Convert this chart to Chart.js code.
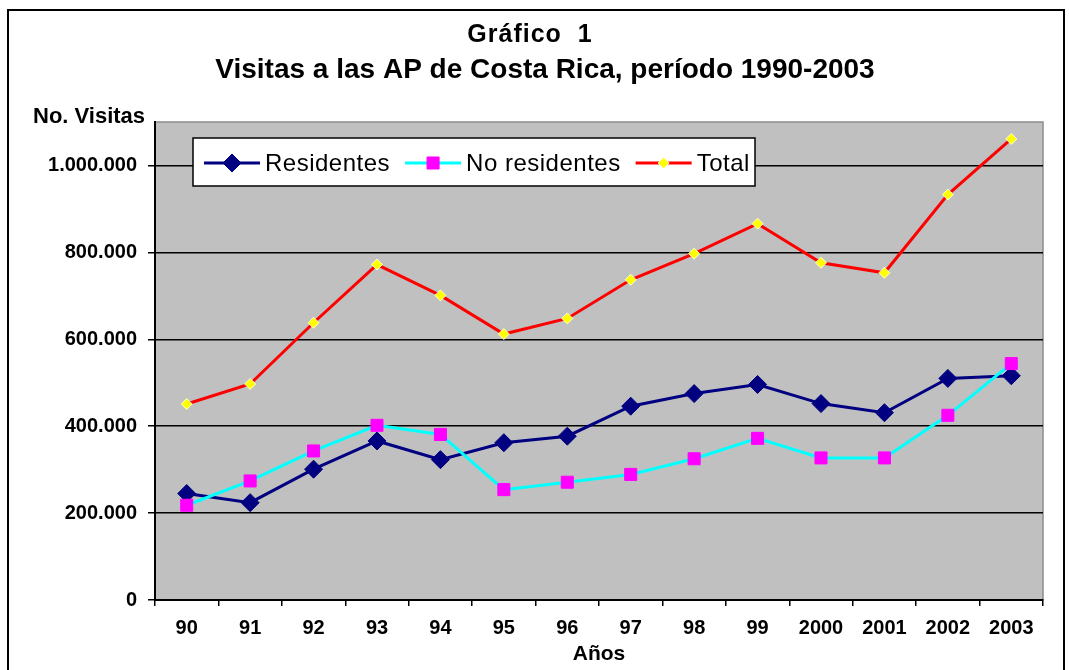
<!DOCTYPE html>
<html>
<head>
<meta charset="utf-8">
<title>Visitas a las AP de Costa Rica, período 1990-2003</title>
<script src="https://cdn.jsdelivr.net/npm/chart.js@4/dist/chart.umd.min.js"></script>
<style>
  html, body { margin: 0; padding: 0; background: #fff; }
  #wrap { position: relative; width: 1069px; height: 670px; overflow: hidden; }
  #frame {
    position: absolute; left: 7px; top: 9px; width: 1054px; height: 700px;
    border: 2px solid #000; pointer-events: none;
  }
  canvas { position: absolute; left: 0; top: 0; }
</style>
</head>
<body>
<div id="wrap">
  <canvas id="chart" width="1069" height="670"></canvas>
  <div id="frame"></div>
</div>
<script>
// Data
const years = ['90', '91', '92', '93', '94', '95', '96', '97', '98', '99', '2000', '2001', '2002', '2003'];
const residentes = [245000, 224000, 301000, 366000, 323000, 362000, 377000, 446000, 475000, 496000, 452000, 431000, 510000, 516000];
const noResidentes = [218000, 274000, 343000, 402000, 381000, 254000, 271000, 289000, 325000, 372000, 327000, 327000, 425000, 544000];
const total = [451000, 497000, 638000, 772000, 701000, 612000, 648000, 737000, 797000, 866000, 776000, 753000, 933000, 1061000];
const yTicks = [0, 200000, 400000, 600000, 800000, 1000000];

const titleText = 'Gráfico  1';
const subtitleText = 'Visitas a las AP de Costa Rica, período 1990-2003';
const yAxisLabel = 'No. Visitas';
const xAxisLabel = 'Años';

const FONT = "'Liberation Sans', Arial, sans-serif";

function formatMiles(v) {
  return v.toString().replace(/\B(?=(\d{3})+(?!\d))/g, '.');
}

// Grey plot background and its thin border
const plotBackground = {
  id: 'plotBackground',
  beforeDraw(chart) {
    const { ctx, chartArea: a } = chart;
    ctx.save();
    ctx.fillStyle = '#c0c0c0';
    ctx.fillRect(a.left, a.top, a.right - a.left, a.bottom - a.top);
    ctx.strokeStyle = '#8c8c8c';
    ctx.lineWidth = 1.5;
    ctx.strokeRect(a.left, a.top, a.right - a.left, a.bottom - a.top);
    ctx.restore();
  }
};

// Titles, the horizontal y-axis caption and the boxed legend inside the plot
const decorations = {
  id: 'decorations',
  afterDraw(chart) {
    const ctx = chart.ctx;
    ctx.save();
    ctx.fillStyle = '#000';
    ctx.textBaseline = 'alphabetic';

    ctx.textAlign = 'center';
    ctx.font = 'bold 25px ' + FONT;
    ctx.letterSpacing = '1px';
    ctx.fillText(titleText, 530, 42);
    ctx.font = 'bold 28px ' + FONT;
    ctx.letterSpacing = '0px';
    ctx.fillText(subtitleText, 545, 78);

    ctx.textAlign = 'left';
    ctx.font = 'bold 22px ' + FONT;
    ctx.fillText(yAxisLabel, 33, 123);

    // legend box
    const bx = 193, by = 138, bw = 562, bh = 48;
    ctx.fillStyle = '#fff';
    ctx.fillRect(bx, by, bw, bh);
    ctx.strokeStyle = '#000';
    ctx.lineWidth = 1.5;
    ctx.strokeRect(bx, by, bw, bh);

    const cy = by + bh / 2 + 1;
    let x = 204;
    ctx.font = '24px ' + FONT;
    ctx.letterSpacing = '0.5px';
    ctx.textBaseline = 'middle';
    chart.data.datasets.forEach(ds => {
      ctx.strokeStyle = ds.borderColor;
      ctx.lineWidth = ds.borderWidth;
      ctx.beginPath();
      ctx.moveTo(x, cy);
      ctx.lineTo(x + 56, cy);
      ctx.stroke();
      ctx.fillStyle = ds.pointBackgroundColor;
      ctx.strokeStyle = ds.pointBorderColor;
      ctx.lineWidth = ds.pointBorderWidth;
      Chart.helpers.drawPoint(ctx, {
        pointStyle: ds.pointStyle,
        radius: ds.pointRadius,
        borderWidth: ds.pointBorderWidth,
        rotation: 0
      }, x + 28, cy);
      ctx.fillStyle = '#000';
      ctx.fillText(ds.label, x + 61, cy + 1);
      x += 61 + ctx.measureText(ds.label).width + 15;
    });
    ctx.restore();
  }
};

new Chart(document.getElementById('chart'), {
  type: 'line',
  data: {
    labels: years,
    datasets: [
      {
        label: 'Residentes',
        data: residentes,
        borderColor: '#000080',
        borderWidth: 3,
        pointStyle: 'rectRot',
        pointRadius: 9,
        pointBackgroundColor: '#000080',
        pointBorderColor: '#000080',
        pointBorderWidth: 1,
        order: 3
      },
      {
        label: 'No residentes',
        data: noResidentes,
        borderColor: '#00ffff',
        borderWidth: 3,
        pointStyle: 'rect',
        pointRadius: 8.5,
        pointBackgroundColor: '#ff00ff',
        pointBorderColor: '#ff00ff',
        pointBorderWidth: 1,
        order: 2
      },
      {
        label: 'Total',
        data: total,
        borderColor: '#ff0000',
        borderWidth: 3,
        pointStyle: 'rectRot',
        pointRadius: 5.5,
        pointBackgroundColor: '#ffff00',
        pointBorderColor: '#ffffcc',
        pointBorderWidth: 1,
        order: 1
      }
    ]
  },
  options: {
    responsive: false,
    animation: false,
    layout: { padding: { left: 0, right: 26, top: 122, bottom: 0 } },
    plugins: {
      legend: { display: false },
      title: { display: false },
      tooltip: { enabled: false }
    },
    scales: {
      x: {
        type: 'category',
        offset: true,
        afterFit: s => { s.height = 70; },
        border: { color: '#000', width: 2 },
        grid: { offset: true, drawOnChartArea: false, drawTicks: true, tickLength: 6, color: '#000', lineWidth: 1.5 },
        ticks: { color: '#000', padding: 10, maxRotation: 0, autoSkip: false, font: { family: FONT, size: 20, weight: 'bold' } },
        title: { display: true, text: xAxisLabel, color: '#000', padding: { top: 0, bottom: 3 }, font: { family: FONT, size: 21, weight: 'bold' } }
      },
      y: {
        min: 0,
        max: 1100000,
        afterFit: s => { s.width = 155; },
        afterBuildTicks: s => { s.ticks = yTicks.map(v => ({ value: v })); },
        border: { color: '#000', width: 2 },
        grid: { color: '#000', lineWidth: 1.5, tickLength: 7, tickColor: '#000' },
        ticks: {
          color: '#000',
          padding: 11,
          font: { family: FONT, size: 20, weight: 'bold' },
          callback: v => formatMiles(v)
        }
      }
    }
  },
  plugins: [plotBackground, decorations]
});
</script>
</body>
</html>
